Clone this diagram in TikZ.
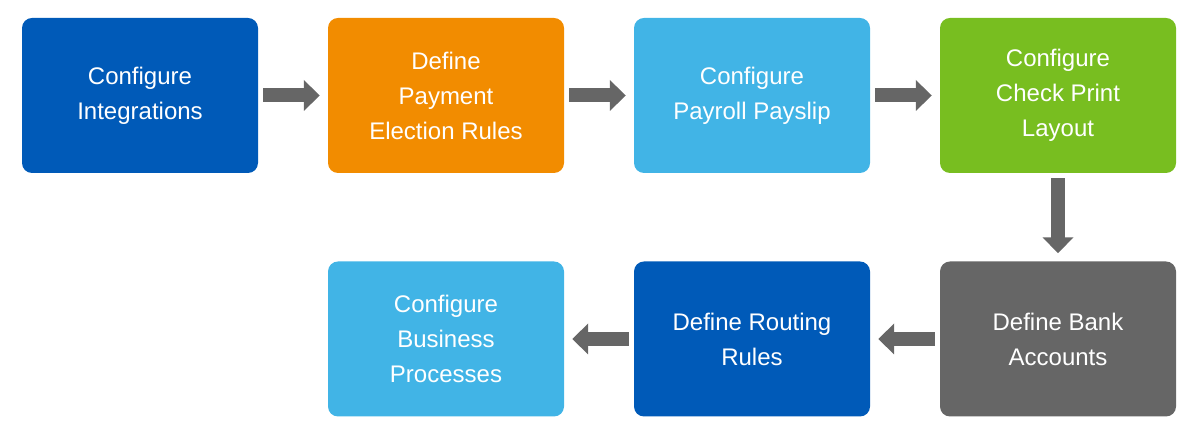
\documentclass[tikz,border=0pt]{standalone}
\usepackage{fontspec}
\setmainfont{Liberation Sans}
\usetikzlibrary{arrows.meta}
\definecolor{dblue}{RGB}{0,90,184}
\definecolor{orng}{RGB}{242,140,0}
\definecolor{lblue}{RGB}{65,180,230}
\definecolor{grn}{RGB}{120,190,32}
\definecolor{gry}{RGB}{102,102,102}
\begin{document}
\begin{tikzpicture}[x=1pt,y=1pt,
  box/.style={draw=none,rounded corners=10pt,minimum width=236pt,minimum height=155pt,
    text=white,align=center,font=\fontsize{24}{35}\selectfont,inner sep=0pt},
  arr/.style={draw=gry,line width=14pt,-{Triangle[length=16pt,width=30pt]},shorten <=5pt,shorten >=8pt}]
\useasboundingbox (0,0) rectangle (1200,435);
\node[box,fill=dblue] (a) at (140,339.5) {Configure\\Integrations};
\node[box,fill=orng] (b) at (446,339.5) {Define\\Payment\\Election Rules};
\node[box,fill=lblue] (c) at (752,339.5) {Configure\\Payroll Payslip};
\node[box,fill=grn] (d) at (1058,339.5) {Configure\\Check Print\\Layout};
\node[box,fill=gry] (e) at (1058,96) {Define Bank\\Accounts};
\node[box,fill=dblue] (f) at (752,96) {Define Routing\\Rules};
\node[box,fill=lblue] (g) at (446,96) {Configure\\Business\\Processes};
\draw[arr] (a.east) -- (b.west);
\draw[arr] (b.east) -- (c.west);
\draw[arr] (c.east) -- (d.west);
\draw[arr] (d.south) -- (e.north);
\draw[arr] (e.west) -- (f.west-|f.east);
\draw[arr] (f.west) -- (g.east);
\end{tikzpicture}
\end{document}
